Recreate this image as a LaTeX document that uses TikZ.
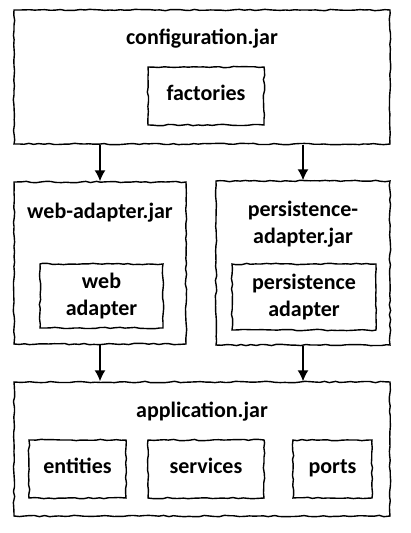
\documentclass[tikz,border=0pt]{standalone}
\usepackage{fontspec}
\setmainfont{Carlito}
\usetikzlibrary{decorations.pathmorphing,arrows.meta}
\tikzset{
  sketch/.style={draw,line width=1.4pt,decorate,
    decoration={random steps,segment length=5pt,amplitude=0.7pt}},
  jar/.style={sketch,inner sep=0pt},
  part/.style={sketch,inner sep=0pt,align=center},
  oneline/.style={text height=0.9em,text depth=0pt},
  title/.style={align=center},
}
\begin{document}
\begin{tikzpicture}[x=1pt,y=-1pt,font=\fontsize{22}{27}\selectfont\bfseries]
\useasboundingbox (0,0) rectangle (411,533);
% configuration
\node[jar,minimum width=376pt,minimum height=134pt](config) at(202,77){};
\node[title](configT) at(202,39){configuration.jar};
\node[part,oneline,minimum width=116pt,minimum height=58pt](fact) at(206,96){factories};
% adapters
\node[jar,minimum width=172pt,minimum height=162pt](web) at(100,263){};
\node[title](webT) at(100,213){web-adapter.jar};
\node[part,minimum width=123pt,minimum height=64pt](webIn) at(101.5,296){web\\adapter};
\node[jar,minimum width=174pt,minimum height=164pt](pers) at(303,263){};
\node[title](persT) at(303,224){persistence-\\adapter.jar};
\node[part,minimum width=144pt,minimum height=66pt](persIn) at(304,297){persistence\\adapter};
% application
\node[jar,minimum width=376pt,minimum height=134pt](app) at(202,449){};
\node[title](appT) at(202,412){application.jar};
\node[part,oneline,minimum width=97pt,minimum height=58pt](ent) at(77.5,469){entities};
\node[part,oneline,minimum width=116pt,minimum height=58pt](serv) at(206,469){services};
\node[part,oneline,minimum width=79pt,minimum height=58pt](ports) at(332.5,469){ports};
\foreach \p in {web,pers}{
\draw[-{Latex[length=11pt,width=11pt]},line width=1.4pt](config.south -| \p.north)--(\p.north);
\draw[-{Latex[length=11pt,width=11pt]},line width=1.4pt](\p.south)--(app.north -| \p.south);
}
\end{tikzpicture}
\end{document}
